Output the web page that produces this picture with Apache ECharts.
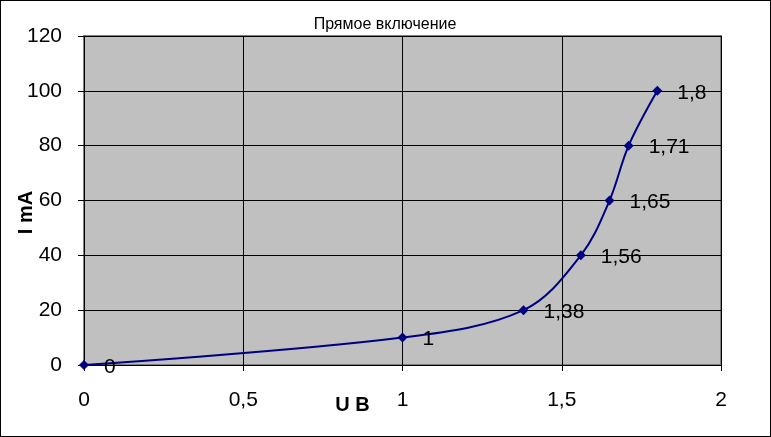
<!DOCTYPE html>
<html><head><meta charset="utf-8">
<script src="https://cdn.jsdelivr.net/npm/echarts@6/dist/echarts.min.js"></script>
<style>html,body{margin:0;padding:0;background:#fff}#c{width:771px;height:437px;box-sizing:border-box;border:1px solid #000}</style>
</head><body><div id="c"></div>
<script>
const voltage = [0, 1, 1.38, 1.56, 1.65, 1.71, 1.8];
const current = [0, 10, 20, 40, 60, 80, 100];
const title = 'Прямое включение';
const xName = 'U B';
const yName = 'I mA';
const fmt = v => String(v).replace('.', ',');
const FF = 'Arial, Liberation Sans';
const chart = echarts.init(document.getElementById('c'));
chart.setOption({
  animation: false,
  title: { text: title, left: 379, top: 11, textAlign: 'center',
    textStyle: { fontFamily: FF, fontSize: 16, fontWeight: 'normal', color: '#000' } },
  grid: { left: 83, right: 49, top: 35, bottom: 71, containLabel: false, outerBoundsMode: 'none',
    show: true, backgroundColor: '#c0c0c0', borderColor: '#808080', borderWidth: 2 },
  xAxis: { type: 'value', min: 0, max: 2, interval: 0.5,
    name: xName, nameLocation: 'middle', nameGap: 30, nameMoveOverlap: false,
    nameTextStyle: { fontFamily: FF, fontSize: 20, fontWeight: 'bold', color: '#000', padding: [0, 100, 0, 0] },
    axisLine: { show: true, lineStyle: { color: '#000' } },
    axisTick: { show: true, length: 6, lineStyle: { color: '#000' } },
    axisLabel: { formatter: fmt, fontFamily: FF, fontSize: 21, color: '#000', margin: 25 },
    splitLine: { show: true, lineStyle: { color: '#000', width: 1 } } },
  yAxis: { type: 'value', min: 0, max: 120, interval: 20,
    name: yName, nameLocation: 'middle', nameGap: 48, nameMoveOverlap: false,
    nameTextStyle: { fontFamily: FF, fontSize: 20, fontWeight: 'bold', color: '#000', padding: [0, 24, 0, 0] },
    axisLine: { show: false },
    axisTick: { show: true, length: 6, lineStyle: { color: '#000' } },
    axisLabel: { fontFamily: FF, fontSize: 21, color: '#000', margin: 22 },
    splitLine: { show: true, lineStyle: { color: '#000', width: 1 } } },
  series: [{
    type: 'line', smooth: 0.35,
    data: voltage.map((v, i) => [v, current[i]]),
    symbol: 'diamond', symbolSize: 10,
    lineStyle: { color: '#000080', width: 2 },
    itemStyle: { color: '#000080' },
    label: { show: true, position: 'right', distance: 15, formatter: p => fmt(p.value[0]),
      fontFamily: FF, fontSize: 21, color: '#000', offset: [0, 2] }
  }]
});
</script></body></html>
